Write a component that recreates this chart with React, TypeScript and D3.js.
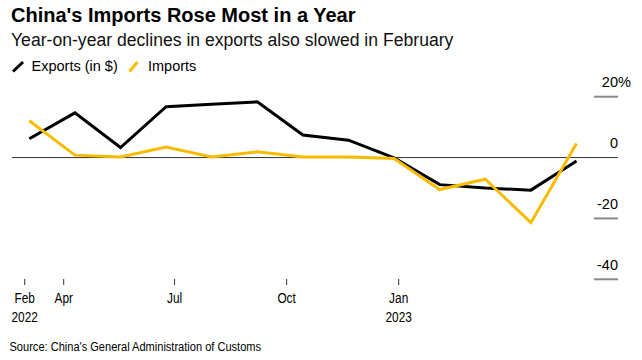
import React from "react";
import * as d3 from "d3";

const months = [
  "2022-02", "2022-03", "2022-04", "2022-05", "2022-06", "2022-07", "2022-08",
  "2022-09", "2022-10", "2022-11", "2022-12", "2023-01", "2023-02",
];
const exportsYoY = [6.2, 14.7, 3.3, 16.7, 17.5, 18.3, 7.4, 5.7, -0.1, -8.9, -10.0, -10.7, -1.1];
const importsYoY = [12.1, 0.8, 0.2, 3.5, 0.2, 1.9, 0.2, 0.2, -0.3, -10.5, -7.1, -21.4, 4.6];

const xTickDates = ["2022-02-28", "2022-04-01", "2022-07-01", "2022-10-01", "2023-01-01"];
const xTickLabels = ["Feb", "Apr", "Jul", "Oct", "Jan"];
const xTickYears = ["2022", "", "", "", "2023"];
const yTicks = [20, 0, -20, -40];

const title = "China's Imports Rose Most in a Year";
const subtitle = "Year-on-year declines in exports also slowed in February";
const source = "Source: China's General Administration of Customs";
const seriesNames = ["Exports (in $)", "Imports"];

const BLACK = "#000000";
const YELLOW = "#f7bc00";
const FONT = "'Liberation Sans', Arial, sans-serif";
const NARROW_SCALE = 0.82;

export default function App() {
  const W = 642, H = 360;
  const x = d3.scalePoint<string>().domain(months).range([29.3, 576.5]);
  const y = d3.scaleLinear().domain([-40, 20]).range([279.3, 96.7]);
  const parse = d3.timeParse("%Y-%m-%d");
  const xt = d3.scaleTime()
    .domain([parse("2022-04-01")!, parse("2023-01-01")!])
    .range([63.7, 398.7]);

  const line = d3.line<number>()
    .x((_, i) => x(months[i])!)
    .y((d) => y(d));

  const axisRight = 618;
  const tickLeft = 594;

  const narrow = (tx: number, ty: number, s: string, size: number, anchor: string, key?: string) => (
    <text
      key={key}
      transform={`translate(${tx},${ty}) scale(${NARROW_SCALE},1)`}
      textAnchor={anchor}
      fontFamily={FONT}
      fontSize={size}
      fill="#000"
    >
      {s}
    </text>
  );

  return (
    <svg width={W} height={H} style={{ position: "absolute", left: 0, top: 0 }}>
      <rect width={W} height={H} fill="#fff" />
      <text x={11} y={21.5} fontFamily={FONT} fontWeight="bold" fontSize={20} fill="#000">{title}</text>
      <text x={11} y={45.5} fontFamily={FONT} fontSize={17.6} fill="#111">{subtitle}</text>

      {/* legend */}
      <line x1={13} y1={71.5} x2={23} y2={62} stroke={BLACK} strokeWidth={3} />
      <text x={31.5} y={70.5} fontFamily={FONT} fontSize={14.5} fill="#000">{seriesNames[0]}</text>
      <line x1={129.5} y1={71.5} x2={137.5} y2={62} stroke={YELLOW} strokeWidth={3} />
      <text x={148} y={70.5} fontFamily={FONT} fontSize={14.5} fill="#000">{seriesNames[1]}</text>

      {/* y axis */}
      {yTicks.map((t) => (
        <g key={t}>
          {t !== 0 && (
            <line x1={tickLeft} x2={axisRight} y1={y(t)} y2={y(t)} stroke="#8a8a8a" strokeWidth={2} />
          )}
          <text x={axisRight} y={y(t) - 9.3} textAnchor="end" fontFamily={FONT} fontSize={14.5} fill="#000">
            {t}
          </text>
          {t === 20 && (
            <text x={axisRight} y={y(t) - 9.3} fontFamily={FONT} fontSize={14.5} fill="#000">%</text>
          )}
        </g>
      ))}
      <line x1={12} x2={axisRight} y1={y(0)} y2={y(0)} stroke="#333" strokeWidth={1} />

      {/* x axis */}
      {xTickDates.map((d, i) => {
        const px = xt(parse(d)!);
        return (
          <g key={d}>
            <line x1={px} x2={px} y1={279} y2={285} stroke="#333" strokeWidth={1} />
            {narrow(px, 303, xTickLabels[i], 14.5, "middle")}
            {xTickYears[i] && narrow(px, 322, xTickYears[i], 14.5, "middle")}
          </g>
        );
      })}

      {/* lines */}
      <path d={line(exportsYoY)!} fill="none" stroke={BLACK} strokeWidth={3} />
      <path d={line(importsYoY)!} fill="none" stroke={YELLOW} strokeWidth={3} />

      {narrow(9.5, 351, source, 13.5, "start")}
    </svg>
  );
}
